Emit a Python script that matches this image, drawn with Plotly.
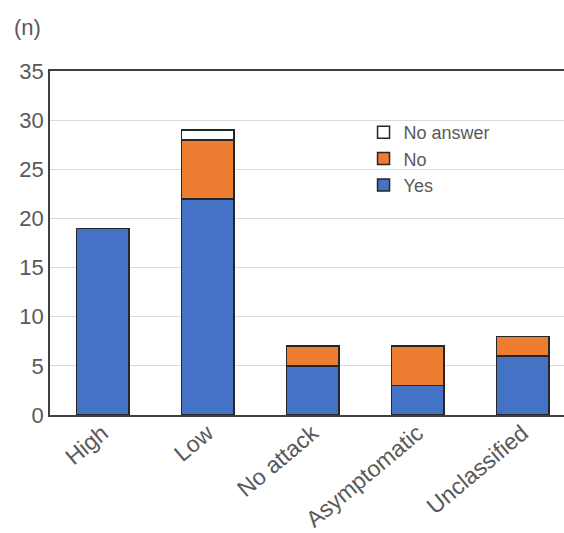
import plotly.graph_objects as go

categories = ["High", "Low", "No attack", "Asymptomatic", "Unclassified"]
yes_counts = [19, 22, 5, 3, 6]
no_counts = [0, 6, 2, 4, 2]
no_answer_counts = [0, 1, 0, 0, 0]

FONT = "Liberation Sans, Arial, sans-serif"
TEXT = "#595959"
EDGE = "#262626"

fig = go.Figure()
fig.add_trace(go.Bar(name="Yes", x=categories, y=yes_counts,
                     marker=dict(color="#4472C4", line=dict(color=EDGE, width=1.5))))
fig.add_trace(go.Bar(name="No", x=categories, y=no_counts,
                     marker=dict(color="#ED7D31", line=dict(color=EDGE, width=1.5))))
fig.add_trace(go.Bar(name="No answer", x=categories, y=no_answer_counts,
                     marker=dict(color="#FFFFFF", line=dict(color=EDGE, width=1.5))))

fig.update_layout(
    width=564, height=533,
    margin=dict(l=50, r=0, t=71, b=118),
    barmode="stack", bargap=0.5,
    plot_bgcolor="white", paper_bgcolor="white",
    font=dict(family=FONT, color=TEXT, size=22),
    legend=dict(x=0.61, y=0.875, xanchor="left", yanchor="top",
                traceorder="reversed", font=dict(size=18, color=TEXT),
                bgcolor="rgba(0,0,0,0)", itemwidth=30, tracegroupgap=0),
    annotations=[dict(text="(n)", xref="paper", yref="paper",
                      x=(27 - 50) / 514, y=1 + (71 - 27) / 344,
                      xanchor="center", yanchor="middle",
                      showarrow=False, font=dict(size=22, color=TEXT))],
)

fig.update_xaxes(range=[-0.5, 4.395], showline=True, linecolor="#404040", linewidth=1.5,
                 mirror=True, ticks="", tickangle=-40, automargin=False,
                 ticklabelstandoff=-6, tickfont=dict(size=23, color=TEXT))
fig.update_yaxes(range=[0, 35], dtick=5, showline=True, linecolor="#404040", linewidth=1.5,
                 showgrid=True, gridcolor="#D9D9D9", gridwidth=1, zeroline=False,
                 ticks="", ticklen=0, automargin=False, tickfont=dict(size=22, color=TEXT))

fig.write_html("out.html")
